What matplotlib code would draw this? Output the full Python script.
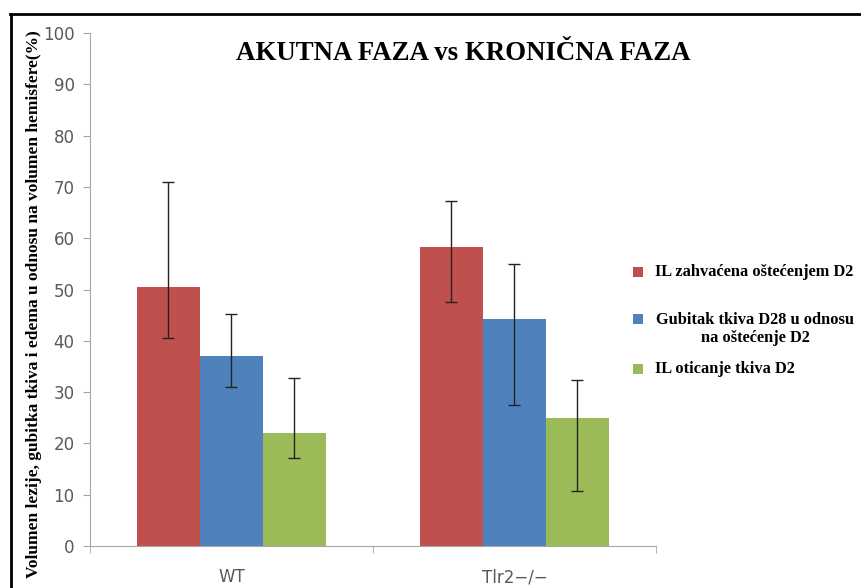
import numpy as np
import matplotlib.pyplot as plt
from matplotlib.lines import Line2D
from matplotlib.patches import Rectangle

groups = ['WT', 'Tlr2\u2212/\u2212']
series = ['IL zahvaćena oštećenjem D2',
          'Gubitak tkiva D28 u odnosu\nna oštećenje D2',
          'IL oticanje tkiva D2']
colors = ['#C0504D', '#4F81BD', '#9BBB59']

# mean values per series, one entry per group
means = [[50.5, 58.3],
         [37.0, 44.2],
         [22.0, 25.0]]
err_hi = [[71.0, 67.3],
          [45.2, 55.0],
          [32.7, 32.3]]
err_lo = [[40.5, 47.5],
          [31.0, 27.5],
          [17.2, 10.7]]

serif = 'Liberation Serif'
grey = '#595959'
axis_grey = '#A6A6A6'

fig = plt.figure(figsize=(8.61, 5.88), dpi=100)
ax = fig.add_axes([0.1045, 0.0714, 0.6574, 0.8724])

x = np.arange(len(groups))
width = 0.2226
for i in range(len(series)):
    m = np.array(means[i])
    lo = m - np.array(err_lo[i])
    hi = np.array(err_hi[i]) - m
    ax.bar(x + (i - 1) * width, m, width=width, color=colors[i],
           edgecolor='none', zorder=2)
    ax.errorbar(x + (i - 1) * width, m, yerr=[lo, hi], fmt='none',
                ecolor='#222222', elinewidth=1, capsize=4, capthick=1, zorder=3)

ax.set_xlim(-0.5, 1.5)
ax.set_ylim(0, 100)
ax.set_yticks(np.arange(0, 101, 10))
ax.set_xticks(x)
ax.set_xticklabels(groups)
ax.set_xticks([-0.5, 0.5, 1.5], minor=True)
ax.tick_params(axis='x', which='major', length=0, pad=16, labelsize=12, labelcolor=grey)
ax.tick_params(axis='x', which='minor', length=5, color=axis_grey, direction='out')
ax.tick_params(axis='y', length=5, color=axis_grey, direction='out', labelsize=12,
               labelcolor=grey, pad=6)
for s in ['top', 'right']:
    ax.spines[s].set_visible(False)
for s in ['left', 'bottom']:
    ax.spines[s].set_color(axis_grey)

ax.set_ylabel('Volumen lezije, gubitka tkiva i edema u odnosu na volumen hemisfere(%)',
              family=serif, fontweight='bold', fontsize=12.5)
ax.yaxis.set_label_coords(-0.085, 0.472)

fig.text(0.538, 0.909, 'AKUTNA FAZA vs KRONIČNA FAZA', family=serif,
         fontweight='bold', fontsize=19.4, ha='center', va='center')

# legend drawn by hand so the wrapped entry stays centred
W, H = 861, 588
leg_font = dict(family=serif, fontweight='bold', fontsize=11.8)
leg_rows = [272, 319, 369]
for c, label, yp in zip(colors, series, leg_rows):
    fig.add_artist(Rectangle(((633) / W, 1 - (yp + 5) / H), 10 / W, 10 / H,
                             transform=fig.transFigure, facecolor=c, edgecolor='none'))
    if '\n' in label:
        fig.text(755 / W, 1 - (yp - 7) / H, label, ha='center', va='top',
                 multialignment='center', linespacing=1.2, **leg_font)
    else:
        fig.text(655 / W, 1 - yp / H, label, ha='left', va='center', **leg_font)

# outer frame: left and top edge only
fig.add_artist(Line2D([0.0125, 0.0125], [0.0, 0.976], color='black', lw=2))
fig.add_artist(Line2D([0.0115, 1.0], [0.976, 0.976], color='black', lw=2))

fig.savefig('out.png', dpi=100)
